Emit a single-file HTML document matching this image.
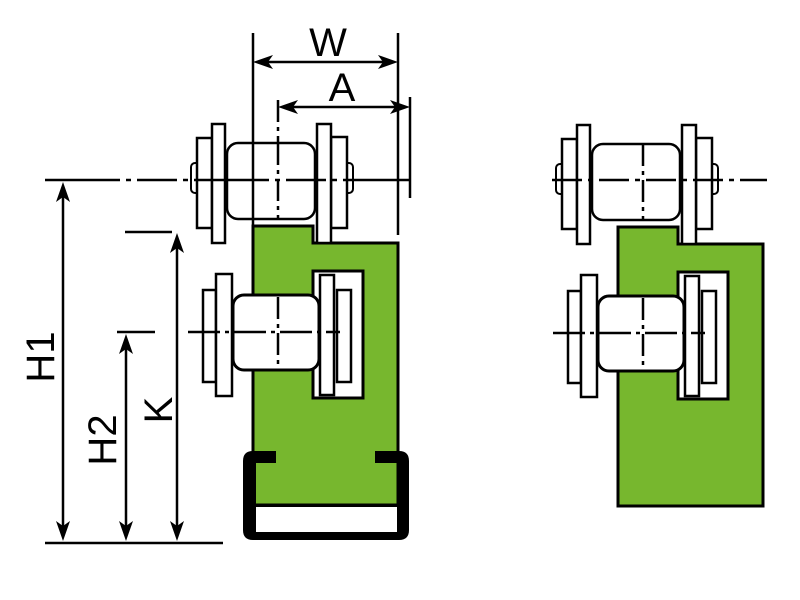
<!DOCTYPE html>
<html><head><meta charset="utf-8"><style>html,body{margin:0;padding:0;background:#fff;width:800px;height:600px;overflow:hidden}</style></head>
<body>
<svg width="800" height="600" viewBox="0 0 800 600" xmlns="http://www.w3.org/2000/svg">
<defs>
<g id="mech">
  <path d="M253,226 H313 V243 H398 V505 H253 Z" fill="#77b72e" stroke="#000" stroke-width="3"/>
  <rect x="191" y="163" width="9" height="30" rx="4" fill="#fff" stroke="#000" stroke-width="2"/>
  <rect x="344" y="163" width="9" height="30" rx="4" fill="#fff" stroke="#000" stroke-width="2"/>
  <rect x="197" y="138" width="15" height="90" fill="#fff" stroke="#000" stroke-width="2.5"/>
  <rect x="212" y="124" width="13" height="119" fill="#fff" stroke="#000" stroke-width="2.5"/>
  <rect x="331" y="137" width="16" height="91" fill="#fff" stroke="#000" stroke-width="2.5"/>
  <rect x="317" y="124" width="14" height="119" fill="#fff" stroke="#000" stroke-width="2.5"/>
  <rect x="227" y="143" width="88" height="76" rx="11" fill="#fff" stroke="#000" stroke-width="2.5"/>
  <line x1="278" y1="143" x2="278" y2="219" stroke="#000" stroke-width="2.5" stroke-dasharray="22,5,4,5"/>
  <rect x="313" y="271" width="50" height="127" fill="#fff" stroke="#000" stroke-width="3"/>
  <rect x="320" y="275" width="14" height="120" fill="#fff" stroke="#000" stroke-width="2.5"/>
  <rect x="337" y="290" width="14" height="92" fill="#fff" stroke="#000" stroke-width="2.5"/>
  <rect x="203" y="290" width="13" height="92" fill="#fff" stroke="#000" stroke-width="2.5"/>
  <rect x="216" y="274" width="16" height="122" fill="#fff" stroke="#000" stroke-width="2.5"/>
  <rect x="233" y="295" width="86" height="75" rx="11" fill="#fff" stroke="#000" stroke-width="3"/>
  <line x1="278" y1="297" x2="278" y2="368" stroke="#000" stroke-width="2.5" stroke-dasharray="22,5,4,5"/>
  <line x1="188" y1="332" x2="340" y2="332" stroke="#000" stroke-width="2.5" stroke-dasharray="32,5,4,5"/>
</g>
</defs>

<use href="#mech"/>
<path d="M243,461 Q243,451 253,451 H276 V463 H256 V532 H397 V463 H375 V451 H399 Q409,451 409,461 V530 Q409,540 399,540 H253 Q243,540 243,530 Z" fill="#000"/>
<rect x="256" y="506" width="141" height="26" rx="6" fill="#fff"/>
<line x1="256" y1="506" x2="397" y2="506" stroke="#000" stroke-width="2"/>
<line x1="45" y1="180" x2="410" y2="180" stroke="#000" stroke-width="2.5" stroke-dasharray="75,6,5,6,40,6,5,6"/>

<g stroke="#000" stroke-width="2.5" fill="none">
  <line x1="253" y1="33" x2="253" y2="226"/>
  <line x1="398" y1="33" x2="398" y2="235"/>
  <line x1="410" y1="97" x2="410" y2="198"/>
  <line x1="278" y1="100" x2="278" y2="143" stroke-dasharray="22,5,4,5"/>
  <line x1="262" y1="62" x2="390" y2="62"/>
  <line x1="286" y1="107" x2="402" y2="107"/>
  <line x1="63" y1="195" x2="63" y2="528"/>
  <line x1="126" y1="348" x2="126" y2="528"/>
  <line x1="177" y1="246" x2="177" y2="528"/>
  <line x1="125" y1="232" x2="172" y2="232"/>
  <line x1="117" y1="332" x2="155" y2="332"/>
  <line x1="45" y1="543" x2="223" y2="543"/>
</g>
<g fill="#000">
  <path d="M253,62 L273,55 L268,62 L273,69 Z"/>
  <path d="M398,62 L378,55 L383,62 L378,69 Z"/>
  <path d="M278,107 L298,100 L293,107 L298,114 Z"/>
  <path d="M410,107 L390,100 L395,107 L390,114 Z"/>
  <path d="M63,182 L56,202 L63,197 L70,202 Z"/>
  <path d="M63,541 L56,521 L63,526 L70,521 Z"/>
  <path d="M126,334 L119,354 L126,349 L133,354 Z"/>
  <path d="M126,541 L119,521 L126,526 L133,521 Z"/>
  <path d="M177,233 L170,253 L177,248 L184,253 Z"/>
  <path d="M177,541 L170,521 L177,526 L184,521 Z"/>
</g>
<g font-family="'Liberation Sans', sans-serif" font-size="40" fill="#000" text-anchor="middle">
  <text x="328" y="56">W</text>
  <text x="342" y="101">A</text>
  <text transform="translate(54,357) rotate(-90)">H1</text>
  <text transform="translate(116,440) rotate(-90)">H2</text>
  <text transform="translate(172,410) rotate(-90)">K</text>
</g>

<g transform="translate(365,1)"><use href="#mech"/></g>
<line x1="552" y1="180" x2="767" y2="180" stroke="#000" stroke-width="2.5" stroke-dasharray="30,6,5,6"/>
</svg>
</body></html>
